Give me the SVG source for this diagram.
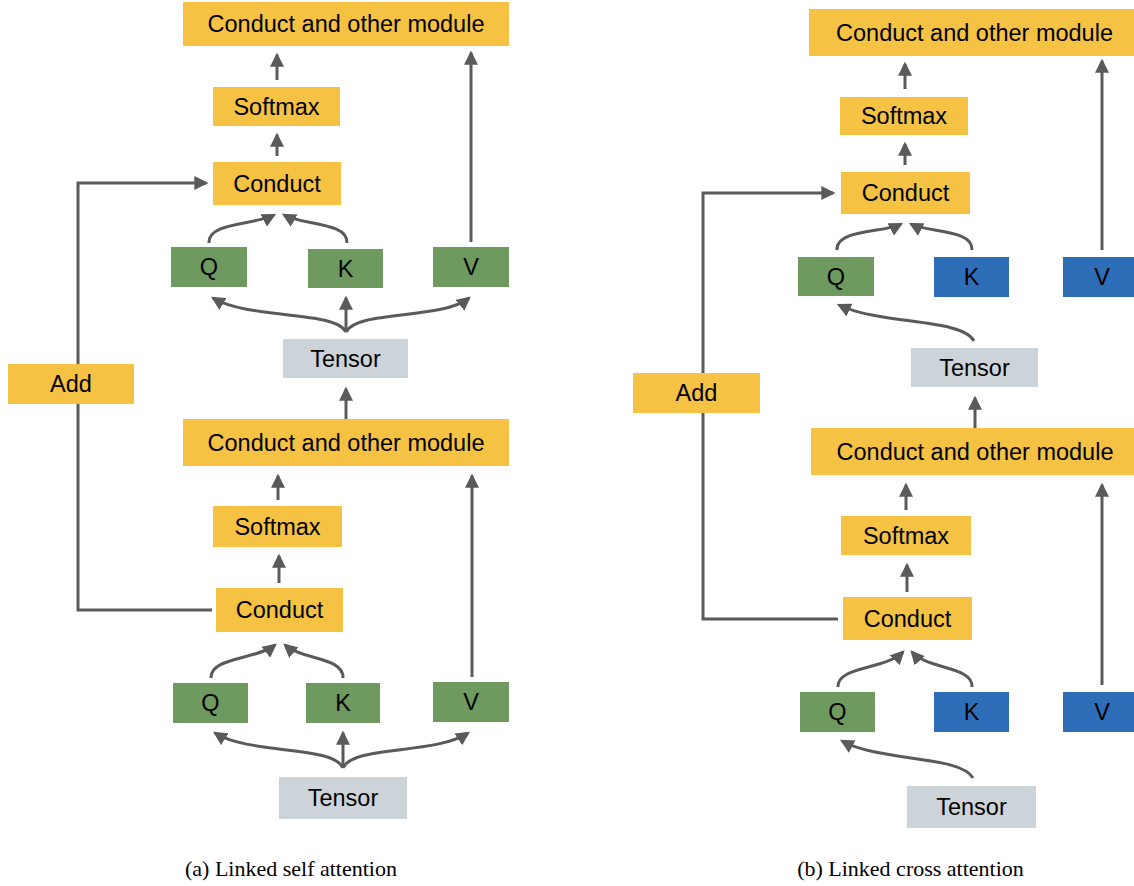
<svg xmlns="http://www.w3.org/2000/svg" width="1134" height="886" viewBox="0 0 1134 886">
<defs>
<style>
.y{fill:#f5c243}
.g{fill:#6f9a5f}
.b{fill:#2e6eb9}
.t{fill:#cdd4d9}
.lb{font-family:"Liberation Sans",Arial,sans-serif;font-size:23.5px;fill:#000;text-anchor:middle;dominant-baseline:central}
.cap{font-family:"Liberation Serif","Times New Roman",serif;font-size:22px;fill:#000;text-anchor:middle}
.ca{fill:none;stroke:#5a5a5a;stroke-width:3;marker-end:url(#ah)}
</style>
<marker id="ah" viewBox="0 0 12 12" markerUnits="userSpaceOnUse" markerWidth="14" markerHeight="14" refX="10" refY="6" orient="auto">
<path d="M0,0 L12,6 L0,12 z" fill="#5a5a5a"/>
</marker>
</defs>
<rect width="1134" height="886" fill="#fff"/>
<g id="connectors">
<path class="ca" d="M277,80 L277,55"/>
<path class="ca" d="M277,156 L277,135"/>
<path class="ca" d="M212,610 L78,610 L78,183 L206,183"/>
<path class="ca" d="M471,242 L471,53"/>
<path class="ca" d="M209,243 C208,222 255,225 274,215"/>
<path class="ca" d="M347,243 C348,222 302,225 284,215"/>
<path class="ca" d="M346,332 C335,310 250,320 213,298"/>
<path class="ca" d="M346,332 C357,310 442,320 469,298"/>
<path class="ca" d="M346,332 L346,298"/>
<path class="ca" d="M346,419 L346,389"/>
<path class="ca" d="M278,500 L278,476"/>
<path class="ca" d="M279,583 L279,556"/>
<path class="ca" d="M472,677 L472,476"/>
<path class="ca" d="M211,678 C210,657 256,660 275,645"/>
<path class="ca" d="M343,678 C344,657 302,660 285,645"/>
<path class="ca" d="M343,768 C333,745 250,755 215,733"/>
<path class="ca" d="M343,768 C353,745 435,755 468,733"/>
<path class="ca" d="M343,768 L343,733"/>
<path class="ca" d="M905,89 L905,64"/>
<path class="ca" d="M905,165 L905,144"/>
<path class="ca" d="M838,619 L703,619 L703,193 L833,193"/>
<path class="ca" d="M1102,250 L1102,61"/>
<path class="ca" d="M837,250 C836,229 884,233 901,224"/>
<path class="ca" d="M972,250 C973,229 928,233 911,224"/>
<path class="ca" d="M974,341 C962,318 880,325 839,305"/>
<path class="ca" d="M975,428 L975,398"/>
<path class="ca" d="M906,510 L906,485"/>
<path class="ca" d="M907,592 L907,565"/>
<path class="ca" d="M1102,685 L1102,485"/>
<path class="ca" d="M838,687 C837,666 885,670 903,652"/>
<path class="ca" d="M972,687 C973,666 928,670 912,652"/>
<path class="ca" d="M973,778 C960,755 880,762 842,741"/>
</g>
<g id="L_caom_top"><rect class="y" x="183" y="2" width="326" height="44"/><text class="lb" x="346" y="24">Conduct and other module</text></g>
<g id="L_softmax_top"><rect class="y" x="213" y="87" width="127" height="39"/><text class="lb" x="276.5" y="106.5">Softmax</text></g>
<g id="L_conduct_top"><rect class="y" x="213" y="162" width="128" height="43"/><text class="lb" x="277" y="183.5">Conduct</text></g>
<g id="L_q_top"><rect class="g" x="171" y="247" width="76" height="40"/><text class="lb" x="209" y="267">Q</text></g>
<g id="L_k_top"><rect class="g" x="308" y="249" width="75" height="39"/><text class="lb" x="345.5" y="268.5">K</text></g>
<g id="L_v_top"><rect class="g" x="433" y="247" width="76" height="40"/><text class="lb" x="471" y="267">V</text></g>
<g id="L_tensor_top"><rect class="t" x="283" y="339" width="125" height="39"/><text class="lb" x="345.5" y="358.5">Tensor</text></g>
<g id="L_add"><rect class="y" x="8" y="364" width="126" height="40"/><text class="lb" x="71" y="384">Add</text></g>
<g id="L_caom_bot"><rect class="y" x="183" y="419" width="326" height="47"/><text class="lb" x="346" y="442.5">Conduct and other module</text></g>
<g id="L_softmax_bot"><rect class="y" x="213" y="506" width="129" height="41"/><text class="lb" x="277.5" y="526.5">Softmax</text></g>
<g id="L_conduct_bot"><rect class="y" x="216" y="588" width="127" height="44"/><text class="lb" x="279.5" y="610">Conduct</text></g>
<g id="L_q_bot"><rect class="g" x="173" y="683" width="75" height="40"/><text class="lb" x="210.5" y="703">Q</text></g>
<g id="L_k_bot"><rect class="g" x="306" y="683" width="74" height="40"/><text class="lb" x="343" y="703">K</text></g>
<g id="L_v_bot"><rect class="g" x="433" y="682" width="76" height="40"/><text class="lb" x="471" y="702">V</text></g>
<g id="L_tensor_bot"><rect class="t" x="279" y="777" width="128" height="42"/><text class="lb" x="343" y="798">Tensor</text></g>
<g id="R_caom_top"><rect class="y" x="809" y="9" width="331" height="47"/><text class="lb" x="974.5" y="32.5">Conduct and other module</text></g>
<g id="R_softmax_top"><rect class="y" x="840" y="97" width="128" height="38"/><text class="lb" x="904" y="116">Softmax</text></g>
<g id="R_conduct_top"><rect class="y" x="841" y="172" width="129" height="42"/><text class="lb" x="905.5" y="193">Conduct</text></g>
<g id="R_q_top"><rect class="g" x="798" y="257" width="76" height="39"/><text class="lb" x="836" y="276.5">Q</text></g>
<g id="R_k_top"><rect class="b" x="934" y="257" width="75" height="40"/><text class="lb" x="971.5" y="277">K</text></g>
<g id="R_v_top"><rect class="b" x="1063" y="257" width="78" height="40"/><text class="lb" x="1102" y="277">V</text></g>
<g id="R_tensor_top"><rect class="t" x="911" y="348" width="127" height="39"/><text class="lb" x="974.5" y="367.5">Tensor</text></g>
<g id="R_add"><rect class="y" x="633" y="373" width="127" height="40"/><text class="lb" x="696.5" y="393">Add</text></g>
<g id="R_caom_bot"><rect class="y" x="811" y="428" width="330" height="47"/><text class="lb" x="975" y="451.5">Conduct and other module</text></g>
<g id="R_softmax_bot"><rect class="y" x="841" y="516" width="130" height="39"/><text class="lb" x="906" y="535.5">Softmax</text></g>
<g id="R_conduct_bot"><rect class="y" x="843" y="597" width="129" height="43"/><text class="lb" x="907.5" y="618.5">Conduct</text></g>
<g id="R_q_bot"><rect class="g" x="800" y="692" width="75" height="40"/><text class="lb" x="837.5" y="712">Q</text></g>
<g id="R_k_bot"><rect class="b" x="934" y="692" width="75" height="40"/><text class="lb" x="971.5" y="712">K</text></g>
<g id="R_v_bot"><rect class="b" x="1063" y="692" width="78" height="40"/><text class="lb" x="1102" y="712">V</text></g>
<g id="R_tensor_bot"><rect class="t" x="907" y="786" width="129" height="42"/><text class="lb" x="971.5" y="807">Tensor</text></g>
<g id="captions">
<text class="cap" x="291" y="876">(a) Linked self attention</text>
<text class="cap" x="910.5" y="876">(b) Linked cross attention</text>
</g>
</svg>
